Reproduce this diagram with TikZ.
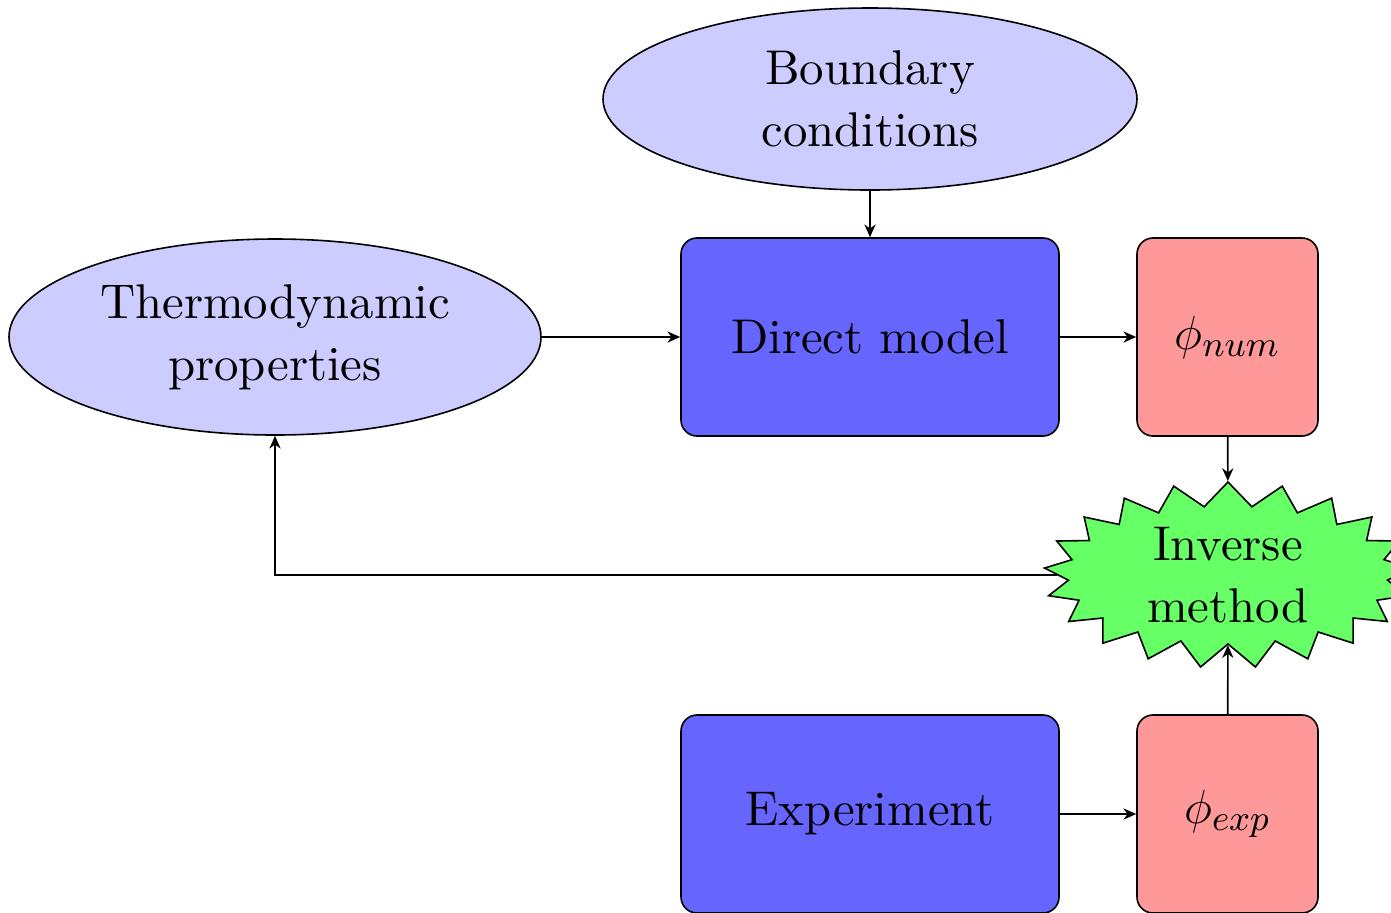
\documentclass[tikz,border=0pt]{standalone}
\usepackage{fontspec}
\setmainfont{lmroman10-regular}[Extension=.otf]
\usetikzlibrary{shapes.geometric,shapes.symbols,arrows.meta}
\begin{document}
\begin{tikzpicture}[x=0.25pt,y=-0.25pt,
  font=\fontsize{12.2}{15.5}\selectfont,
  >={Stealth[length=3.2pt,width=2.8pt]},
  ell/.style={ellipse, draw, fill=blue!20, align=center, inner sep=0pt},
  dbox/.style={rectangle, rounded corners=4pt, draw, fill=blue!60, inner sep=0pt,
    minimum width=94.5pt, minimum height=49.5pt},
  rbox/.style={rectangle, rounded corners=4pt, draw, fill=red!40, inner sep=0pt,
    minimum width=45.25pt, minimum height=49.5pt},
  burst/.style={starburst, draw, fill=green!60, align=center, inner sep=0pt,
    starburst points=21, random starburst=0,
    minimum width=92pt, minimum height=46.5pt, starburst point height=6pt}]
\useasboundingbox (0,0) rectangle (1391,912);
\clip (0,0) rectangle (1391,912);
\node[ell, minimum width=133.5pt, minimum height=45.5pt] (bc) at (870,99) {Boundary\\conditions};
\node[ell, minimum width=133pt, minimum height=49pt] (tp) at (275,337) {Thermodynamic\\properties};
\node[dbox] (dm) at (870,337) {Direct model};
\node[rbox] (pn) at (1227.5,337) {$\phi_{num}$};
\node[burst] (im) at (1228,575) {Inverse\\method};
\node[dbox] (ex) at (870,814) {Experiment};
\node[rbox] (pe) at (1227.5,814) {$\phi_{exp}$};
\draw[->] (bc) -- (dm);
\draw[->] (tp) -- (dm);
\draw[->] (dm) -- (pn);
\draw[->] (pn) -- (im);
\draw[->] (pe) -- (im);
\draw[->] (ex) -- (pe);
\draw[->] (im.west) -| (tp.south);
\end{tikzpicture}
\end{document}
